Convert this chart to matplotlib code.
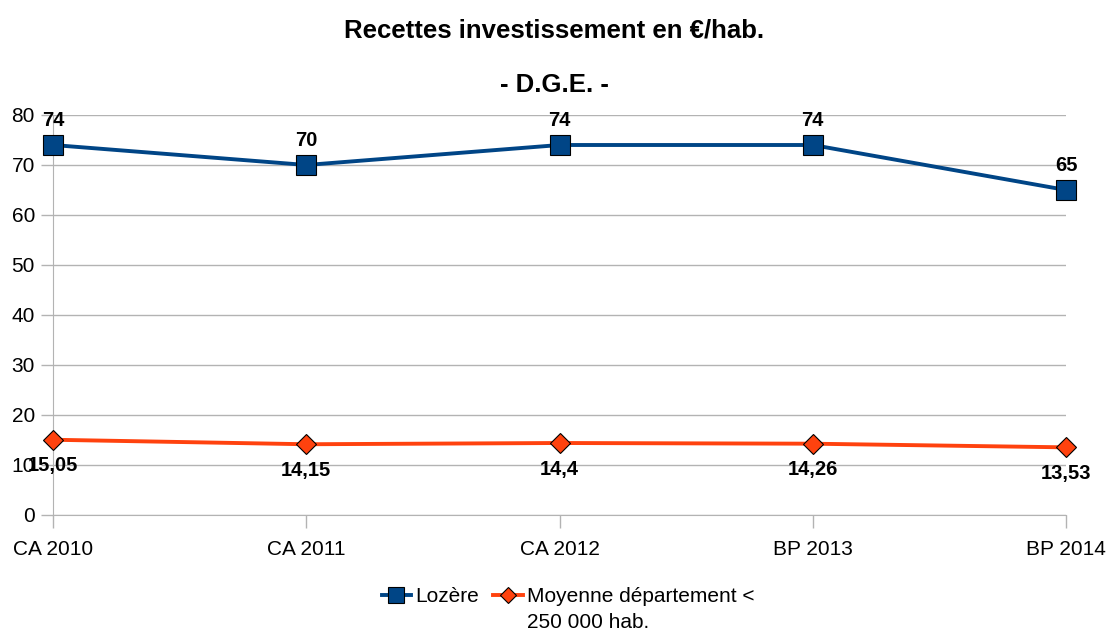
import matplotlib
matplotlib.use("Agg")
import matplotlib.pyplot as plt
from matplotlib.lines import Line2D

# data
categories = ["CA 2010", "CA 2011", "CA 2012", "BP 2013", "BP 2014"]
lozere = [74, 70, 74, 74, 65]
moyenne = [15.05, 14.15, 14.4, 14.26, 13.53]
lozere_labels = ["74", "70", "74", "74", "65"]
moyenne_labels = ["15,05", "14,15", "14,4", "14,26", "13,53"]

plt.rcParams['font.family'] = ['Liberation Sans', 'DejaVu Sans']

fig = plt.figure(figsize=(11.08, 6.33), dpi=100)
ax = fig.add_axes([53/1108, 1 - 515/633, (1066 - 53)/1108, 400/633])

x = range(len(categories))
blue = "#004586"
orange = "#ff420e"

ax.plot(x, lozere, color=blue, lw=2.8, marker="s", ms=14.5,
        markerfacecolor=blue, markeredgecolor="black", markeredgewidth=0.8,
        zorder=3, clip_on=False)
ax.plot(x, moyenne, color=orange, lw=2.8, marker="D", ms=10.5,
        markerfacecolor=orange, markeredgecolor="black", markeredgewidth=0.8,
        zorder=3, clip_on=False)

for i, v in enumerate(lozere):
    ax.annotate(lozere_labels[i], (i, v), xytext=(0, 11), textcoords="offset points",
                ha="center", va="bottom", fontsize=14.5, fontweight="bold", zorder=4)
for i, v in enumerate(moyenne):
    ax.annotate(moyenne_labels[i], (i, v), xytext=(0, -12), textcoords="offset points",
                ha="center", va="top", fontsize=14.5, fontweight="bold", zorder=4)

ax.set_xlim(0, len(categories) - 1)
ax.set_ylim(0, 80)
ax.set_yticks(range(0, 81, 10))
ax.set_xticks(list(x))
ax.set_xticklabels(categories)
ax.tick_params(axis="both", labelsize=15, color="#b3b3b3", length=9, width=1)
ax.tick_params(axis="x", pad=9)
ax.tick_params(axis="y", pad=4)
ax.grid(axis="y", color="#b3b3b3", lw=1)
ax.set_axisbelow(True)
for s in ["top", "right"]:
    ax.spines[s].set_visible(False)
for s in ["left", "bottom"]:
    ax.spines[s].set_color("#b3b3b3")

fig.text(0.5, 1 - 30/633, "Recettes investissement en €/hab.", ha="center", va="center",
         fontsize=18.5, fontweight="bold")
fig.text(0.5, 1 - 85/633, "- D.G.E. -", ha="center", va="center",
         fontsize=18.5, fontweight="bold")

handles = [
    Line2D([], [], color=blue, lw=2.8, marker="s", ms=11, markerfacecolor=blue,
           markeredgecolor="black", markeredgewidth=0.8),
    Line2D([], [], color=orange, lw=2.8, marker="D", ms=8, markerfacecolor=orange,
           markeredgecolor="black", markeredgewidth=0.8),
]
leg = fig.legend(handles, ["Lozère", "Moyenne département <"],
                 loc="center", bbox_to_anchor=(0.5 + 14/1108, 1 - 597/633), ncol=2,
                 frameon=False, fontsize=15, handlelength=1.4, handletextpad=0.2,
                 columnspacing=0.7, borderaxespad=0, borderpad=0)

# second line of the wrapped legend label
fig.canvas.draw()
bb = leg.get_texts()[1].get_window_extent()
fig.text(bb.x0 / 1108, 1 - 622/633, "250 000 hab.", ha="left", va="center", fontsize=15)

fig.savefig("out.png", dpi=100)
